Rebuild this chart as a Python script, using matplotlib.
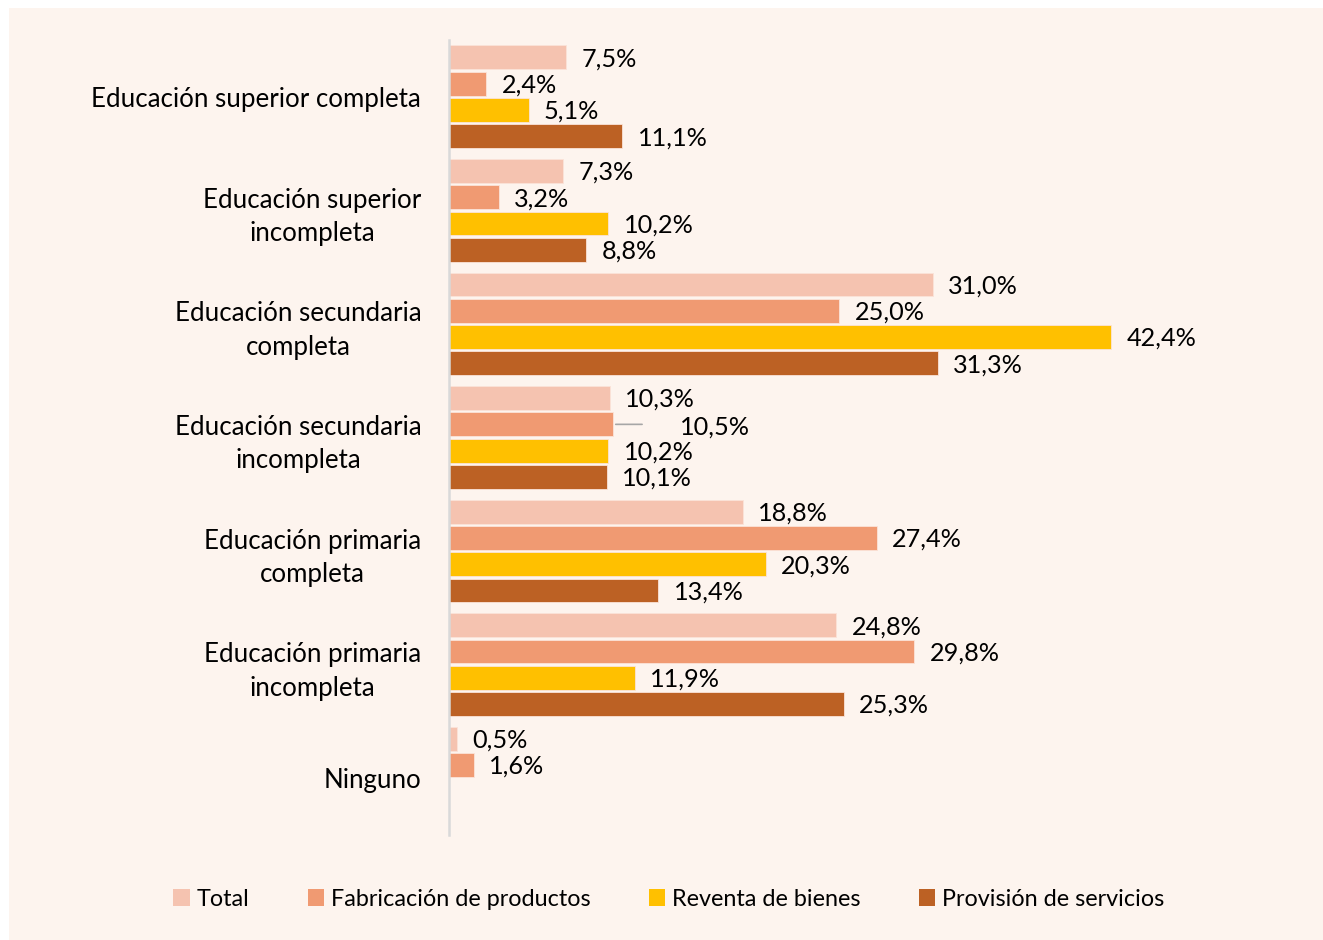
import matplotlib
matplotlib.use("Agg")
import matplotlib.pyplot as plt
import numpy as np
from matplotlib.patches import Rectangle, Patch

plt.rcParams["font.family"] = ["Lato", "DejaVu Sans"]

categories = [
    "Educación superior completa",
    "Educación superior\nincompleta",
    "Educación secundaria\ncompleta",
    "Educación secundaria\nincompleta",
    "Educación primaria\ncompleta",
    "Educación primaria\nincompleta",
    "Ninguno",
]
series = ["Total", "Fabricación de productos", "Reventa de bienes", "Provisión de servicios"]
total = [7.5, 7.3, 31.0, 10.3, 18.8, 24.8, 0.5]
fabricacion = [2.4, 3.2, 25.0, 10.5, 27.4, 29.8, 1.6]
reventa = [5.1, 10.2, 42.4, 10.2, 20.3, 11.9, np.nan]
provision = [11.1, 8.8, 31.3, 10.1, 13.4, 25.3, np.nan]

colors = ["#F5C3B0", "#F09A72", "#FFC000", "#BC6124"]
BG = "#FDF4EE"
FS_CAT = 18.6
FS_LAB = 18.2
FS_LEG = 16.8

W, H = 1323, 940
fig = plt.figure(figsize=(W / 100, H / 100), dpi=100, facecolor="white")
fig.patches.append(Rectangle((9 / W, 0), 1 - 9 / W, 1 - 8 / H, transform=fig.transFigure,
                             facecolor=BG, edgecolor="none", zorder=-5))

x0, x1, y0, y1 = 449, 1300, 40, 835
ax = fig.add_axes([x0 / W, 1 - y1 / H, (x1 - x0) / W, (y1 - y0) / H])
ax.set_zorder(2)
ax.set_facecolor("none")
px_per_unit = (1111 - 449) / 42.4
ax.set_xlim(0, (x1 - x0) / px_per_unit)
ax.set_ylim(6.5, -0.5)

pitch = 0.2315
bh = 0.211
y = np.arange(len(categories))
for k, (vals, col) in enumerate(zip([total, fabricacion, reventa, provision], colors)):
    pos = y + (k - 1.5) * pitch
    ax.barh(pos, vals, height=bh, color=col, edgecolor="#FBE3D8", linewidth=0.6, zorder=2)
    for p, v in zip(pos, vals):
        if np.isnan(v):
            continue
        lab = f"{v:.1f}%".replace(".", ",")
        if k == 1 and v == 10.5:
            ax.annotate(lab, (v, p), xytext=(48, -2), textcoords="offset points",
                        ha="left", va="center", fontsize=FS_LAB, color="black")
            ax.annotate("", (v, p), xytext=(23, 0), textcoords="offset points",
                        arrowprops=dict(arrowstyle="-", color="#A6A6A6", lw=1.2))
        else:
            ax.annotate(lab, (v, p), xytext=(11, -1), textcoords="offset points",
                        ha="left", va="center", fontsize=FS_LAB, color="black")

ax.set_yticks(y)
ax.set_yticklabels(categories, fontsize=FS_CAT, linespacing=1.42)
for t in ax.get_yticklabels():
    t.set_multialignment("center")
ax.tick_params(axis="y", length=0, pad=20)
ax.set_xticks([])
for s in ["top", "right", "bottom"]:
    ax.spines[s].set_visible(False)
ax.spines["left"].set_color("#D9D9D9")
ax.spines["left"].set_linewidth(1.8)

handles = [Patch(facecolor=c, edgecolor="none") for c in colors]
fig.legend(handles, series, loc="center", bbox_to_anchor=(0.5 + 7.5 / W, 1 - 899 / H), ncol=4,
           frameon=False, fontsize=FS_LEG, handlelength=0.7, handleheight=0.7,
           handletextpad=0.3, columnspacing=2.5)

fig.savefig("out.png", dpi=100, facecolor="white")
